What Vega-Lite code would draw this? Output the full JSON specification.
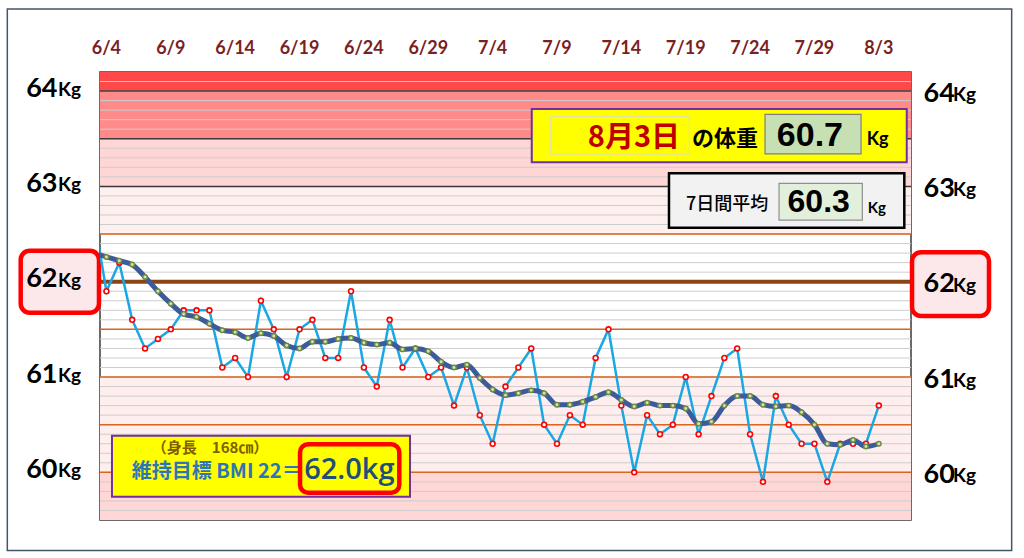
{
  "$schema": "https://vega.github.io/schema/vega-lite/v6.json",
  "description": "Daily body weight 6/4 - 8/3 with 7-day average",
  "width": 811,
  "height": 448,
  "autosize": {"type": "none"},
  "padding": {"left": 100, "top": 72, "right": 113, "bottom": 38},
  "background": "white",
  "config": {"view": {"stroke": "#3a3a3a", "strokeWidth": 1.5}, "text": {"font": "Lato"}},
  "datasets": {
    "weights": [
      {"d": -1, "w": 62.7, "ma": 62.30},
      {"d": 0, "w": 61.9, "ma": 62.26},
      {"d": 1, "w": 62.2, "ma": 62.22},
      {"d": 2, "w": 61.6, "ma": 62.18},
      {"d": 3, "w": 61.3, "ma": 62.05},
      {"d": 4, "w": 61.4, "ma": 61.90},
      {"d": 5, "w": 61.5, "ma": 61.77},
      {"d": 6, "w": 61.7, "ma": 61.66},
      {"d": 7, "w": 61.7, "ma": 61.63},
      {"d": 8, "w": 61.7, "ma": 61.56},
      {"d": 9, "w": 61.1, "ma": 61.49},
      {"d": 10, "w": 61.2, "ma": 61.47},
      {"d": 11, "w": 61.0, "ma": 61.41},
      {"d": 12, "w": 61.8, "ma": 61.46},
      {"d": 13, "w": 61.5, "ma": 61.43},
      {"d": 14, "w": 61.0, "ma": 61.33},
      {"d": 15, "w": 61.5, "ma": 61.30},
      {"d": 16, "w": 61.6, "ma": 61.37},
      {"d": 17, "w": 61.2, "ma": 61.37},
      {"d": 18, "w": 61.2, "ma": 61.40},
      {"d": 19, "w": 61.9, "ma": 61.41},
      {"d": 20, "w": 61.1, "ma": 61.36},
      {"d": 21, "w": 60.9, "ma": 61.34},
      {"d": 22, "w": 61.6, "ma": 61.36},
      {"d": 23, "w": 61.1, "ma": 61.29},
      {"d": 24, "w": 61.3, "ma": 61.30},
      {"d": 25, "w": 61.0, "ma": 61.27},
      {"d": 26, "w": 61.1, "ma": 61.16},
      {"d": 27, "w": 60.7, "ma": 61.10},
      {"d": 28, "w": 61.1, "ma": 61.13},
      {"d": 29, "w": 60.6, "ma": 60.99},
      {"d": 30, "w": 60.3, "ma": 60.87},
      {"d": 31, "w": 60.9, "ma": 60.81},
      {"d": 32, "w": 61.1, "ma": 60.83},
      {"d": 33, "w": 61.3, "ma": 60.86},
      {"d": 34, "w": 60.5, "ma": 60.83},
      {"d": 35, "w": 60.3, "ma": 60.71},
      {"d": 36, "w": 60.6, "ma": 60.71},
      {"d": 37, "w": 60.5, "ma": 60.74},
      {"d": 38, "w": 61.2, "ma": 60.79},
      {"d": 39, "w": 61.5, "ma": 60.84},
      {"d": 40, "w": 60.7, "ma": 60.76},
      {"d": 41, "w": 60.0, "ma": 60.69},
      {"d": 42, "w": 60.6, "ma": 60.73},
      {"d": 43, "w": 60.4, "ma": 60.70},
      {"d": 44, "w": 60.5, "ma": 60.70},
      {"d": 45, "w": 61.0, "ma": 60.67},
      {"d": 46, "w": 60.4, "ma": 60.51},
      {"d": 47, "w": 60.8, "ma": 60.53},
      {"d": 48, "w": 61.2, "ma": 60.70},
      {"d": 49, "w": 61.3, "ma": 60.80},
      {"d": 50, "w": 60.4, "ma": 60.80},
      {"d": 51, "w": 59.9, "ma": 60.71},
      {"d": 52, "w": 60.8, "ma": 60.69},
      {"d": 53, "w": 60.5, "ma": 60.70},
      {"d": 54, "w": 60.3, "ma": 60.63},
      {"d": 55, "w": 60.3, "ma": 60.50},
      {"d": 56, "w": 59.9, "ma": 60.30},
      {"d": 57, "w": 60.3, "ma": 60.29},
      {"d": 58, "w": 60.3, "ma": 60.34},
      {"d": 59, "w": 60.3, "ma": 60.27},
      {"d": 60, "w": 60.7, "ma": 60.30}
    ],
    "dates": [
      {"d": 0, "label": "6/4"}, {"d": 5, "label": "6/9"}, {"d": 10, "label": "6/14"},
      {"d": 15, "label": "6/19"}, {"d": 20, "label": "6/24"}, {"d": 25, "label": "6/29"},
      {"d": 30, "label": "7/4"}, {"d": 35, "label": "7/9"}, {"d": 40, "label": "7/14"},
      {"d": 45, "label": "7/19"}, {"d": 50, "label": "7/24"}, {"d": 55, "label": "7/29"},
      {"d": 60, "label": "8/3"}
    ],
    "bands": [
      {"lo": 64.0, "hi": 64.2, "zone": "z1"},
      {"lo": 63.5, "hi": 64.0, "zone": "z2"},
      {"lo": 63.0, "hi": 63.5, "zone": "z3"},
      {"lo": 62.5, "hi": 63.0, "zone": "z4"},
      {"lo": 60.0, "hi": 61.0, "zone": "z5"},
      {"lo": 59.5, "hi": 60.0, "zone": "z6"}
    ],
    "grid": [
      {"y": 59.6}, {"y": 59.7}, {"y": 59.8}, {"y": 59.9}, {"y": 60.0},
      {"y": 60.1}, {"y": 60.2}, {"y": 60.3}, {"y": 60.4}, {"y": 60.5},
      {"y": 60.6}, {"y": 60.7}, {"y": 60.8}, {"y": 60.9}, {"y": 61.0},
      {"y": 61.1}, {"y": 61.2}, {"y": 61.3}, {"y": 61.4}, {"y": 61.5},
      {"y": 61.6}, {"y": 61.7}, {"y": 61.8}, {"y": 61.9}, {"y": 62.0},
      {"y": 62.1}, {"y": 62.2}, {"y": 62.3}, {"y": 62.4}, {"y": 62.5},
      {"y": 62.6}, {"y": 62.7}, {"y": 62.8}, {"y": 62.9}, {"y": 63.0},
      {"y": 63.1}, {"y": 63.2}, {"y": 63.3}, {"y": 63.4}, {"y": 63.5},
      {"y": 63.6}, {"y": 63.7}, {"y": 63.8}, {"y": 63.9}, {"y": 64.0},
      {"y": 64.1}
    ],
    "orange": [{"y": 60.0}, {"y": 60.5}, {"y": 61.0}, {"y": 61.5}, {"y": 62.5}],
    "dark": [{"y": 63.0}, {"y": 63.5}, {"y": 64.0}],
    "ylabels": [{"y": 60}, {"y": 61}, {"y": 62}, {"y": 63}, {"y": 64}]
  },
  "layer": [
    {
      "data": {"values": [{"frame": "outer"}]},
      "mark": {"type": "rect", "fill": "transparent", "stroke": "#44546A", "strokeWidth": 1.5},
      "encoding": {
        "x": {"datum": -7.7, "scale": {"domain": [-0.5, 62.5], "nice": false, "zero": false}, "axis": null},
        "x2": {"datum": 70.32},
        "y": {"datum": 64.86, "scale": {"domain": [59.5, 64.2], "nice": false, "zero": false}, "axis": null},
        "y2": {"datum": 59.18}
      }
    },
    {
      "data": {"name": "bands"},
      "mark": {"type": "rect"},
      "encoding": {
        "y": {"field": "lo", "type": "quantitative", "scale": {"domain": [59.5, 64.2], "nice": false, "zero": false}, "axis": null},
        "y2": {"field": "hi"},
        "color": {
          "field": "zone", "type": "nominal", "legend": null,
          "scale": {"domain": ["z1", "z2", "z3", "z4", "z5", "z6"], "range": ["#FF4848", "#FF8A8A", "#FFD6D6", "#FFF0F0", "#FFEEEE", "#FFD7D7"]}
        }
      }
    },
    {
      "data": {"name": "grid"},
      "mark": {"type": "rule", "color": "#CDCDCD", "strokeWidth": 1},
      "encoding": {
        "y": {
          "field": "y", "type": "quantitative",
          "axis": {
            "orient": "left", "values": [60, 61, 62, 63, 64], "format": "d", "title": null,
            "domain": false, "ticks": false, "grid": false,
            "labelFont": "Lato", "labelFontSize": 27, "labelFontWeight": "bold", "labelColor": "black",
            "labelPadding": 43, "labelBaseline": "alphabetic", "labelOffset": 5, "zindex": 2
          }
        }
      }
    },
    {
      "data": {"name": "orange"},
      "mark": {"type": "rule", "color": "#D9651E", "strokeWidth": 1.5},
      "encoding": {"y": {"field": "y", "type": "quantitative", "axis": null}}
    },
    {
      "data": {"name": "dark"},
      "mark": {"type": "rule", "color": "#3a3a3a", "strokeWidth": 1.5},
      "encoding": {"y": {"field": "y", "type": "quantitative", "axis": null}}
    },
    {
      "data": {"values": [{"y": 62}]},
      "mark": {"type": "rule", "color": "#8B4513", "strokeWidth": 4},
      "encoding": {
        "y": {
          "field": "y", "type": "quantitative",
          "axis": {
            "orient": "right", "values": [60, 61, 62, 63, 64], "format": "d", "title": null,
            "domain": false, "ticks": false, "grid": false,
            "labelFont": "Lato", "labelFontSize": 27, "labelFontWeight": "bold", "labelColor": "black",
            "labelPadding": 12, "labelAlign": "left", "labelBaseline": "alphabetic", "labelOffset": 10, "zindex": 2
          }
        }
      }
    },
    {
      "data": {"values": [{"box": "left62"}]},
      "mark": {"type": "rect", "fill": "#FCE8EA", "stroke": "#FF0000", "strokeWidth": 4.5, "cornerRadius": 9},
      "encoding": {
        "x": {"datum": -6.66, "axis": null}, "x2": {"datum": -0.58},
        "y": {"datum": 62.325, "axis": null}, "y2": {"datum": 61.675}
      }
    },
    {
      "data": {"values": [{"box": "right62"}]},
      "mark": {"type": "rect", "fill": "#FCE8EA", "stroke": "#FF0000", "strokeWidth": 4.5, "cornerRadius": 9},
      "encoding": {
        "x": {"datum": 62.58, "axis": null}, "x2": {"datum": 68.56},
        "y": {"datum": 62.31, "axis": null}, "y2": {"datum": 61.64}
      }
    },
    {
      "data": {"name": "ylabels"},
      "mark": {"type": "text", "text": "Kg", "align": "right", "baseline": "alphabetic", "dx": -19, "dy": 5, "fontSize": 19, "fontWeight": "bold", "font": "Lato", "color": "black"},
      "encoding": {
        "x": {"datum": -0.5, "axis": null},
        "y": {"field": "y", "type": "quantitative", "axis": null}
      }
    },
    {
      "data": {"name": "ylabels"},
      "mark": {"type": "text", "text": "Kg", "align": "left", "baseline": "alphabetic", "dx": 42, "dy": 10, "fontSize": 19, "fontWeight": "bold", "font": "Lato", "color": "black"},
      "encoding": {
        "x": {"datum": 62.5, "axis": null},
        "y": {"field": "y", "type": "quantitative", "axis": null}
      }
    },
    {
      "data": {"name": "dates"},
      "mark": {"type": "text", "align": "center", "baseline": "alphabetic", "dy": -18, "fontSize": 18, "fontWeight": "bold", "font": "Lato", "color": "#7B1F1F"},
      "encoding": {
        "x": {"field": "d", "type": "quantitative", "axis": null},
        "y": {"datum": 64.2, "axis": null},
        "text": {"field": "label"}
      }
    },
    {
      "data": {"name": "weights"},
      "mark": {"type": "line", "color": "#1AA7E3", "strokeWidth": 2.5, "clip": true},
      "encoding": {
        "x": {"field": "d", "type": "quantitative", "scale": {"domain": [-0.5, 62.5], "nice": false, "zero": false}, "axis": null},
        "y": {"field": "w", "type": "quantitative", "axis": null}
      }
    },
    {
      "data": {"name": "weights"},
      "mark": {"type": "point", "shape": "circle", "filled": true, "fill": "white", "stroke": "#FF0000", "strokeWidth": 1.6, "size": 24, "opacity": 1, "clip": true},
      "encoding": {
        "x": {"field": "d", "type": "quantitative", "axis": null},
        "y": {"field": "w", "type": "quantitative", "axis": null}
      }
    },
    {
      "data": {"name": "weights"},
      "mark": {"type": "line", "color": "#3B5B9A", "strokeWidth": 5, "interpolate": "monotone", "clip": true},
      "encoding": {
        "x": {"field": "d", "type": "quantitative", "axis": null},
        "y": {"field": "ma", "type": "quantitative", "axis": null}
      }
    },
    {
      "data": {"name": "weights"},
      "mark": {"type": "point", "shape": "circle", "filled": true, "fill": "#D5E3B5", "stroke": "#6E8B3D", "strokeWidth": 1.5, "size": 20, "opacity": 1, "clip": true},
      "encoding": {
        "x": {"field": "d", "type": "quantitative", "axis": null},
        "y": {"field": "ma", "type": "quantitative", "axis": null}
      }
    },
    {
      "data": {"values": [{"box": "today"}]},
      "mark": {"type": "rect", "fill": "#FFFF00", "stroke": "#7030A0", "strokeWidth": 2},
      "encoding": {
        "x": {"datum": 33.04, "axis": null}, "x2": {"datum": 62.17},
        "y": {"datum": 63.812, "axis": null}, "y2": {"datum": 63.253}
      }
    },
    {
      "data": {"values": [{"box": "date"}]},
      "mark": {"type": "rect", "fill": "#FFFF00", "stroke": "#E3E3A8", "strokeWidth": 1.2},
      "encoding": {
        "x": {"datum": 34.51, "axis": null}, "x2": {"datum": 45.28},
        "y": {"datum": 63.731, "axis": null}, "y2": {"datum": 63.337}
      }
    },
    {
      "data": {"values": [{"t": "8月3日"}]},
      "mark": {"type": "text", "align": "right", "baseline": "middle", "fontSize": 29, "fontWeight": "bold", "font": "Noto Sans CJK JP", "color": "#C00000"},
      "encoding": {
        "x": {"datum": 44.56, "axis": null}, "y": {"datum": 63.508, "axis": null},
        "text": {"field": "t"}
      }
    },
    {
      "data": {"values": [{"t": "の体重"}]},
      "mark": {"type": "text", "align": "left", "baseline": "middle", "fontSize": 22, "fontWeight": "bold", "font": "Noto Sans CJK JP", "color": "black"},
      "encoding": {
        "x": {"datum": 45.49, "axis": null}, "y": {"datum": 63.497, "axis": null},
        "text": {"field": "t"}
      }
    },
    {
      "data": {"values": [{"box": "todayValue"}]},
      "mark": {"type": "rect", "fill": "#C6E0B4", "stroke": "#7F7F7F", "strokeWidth": 1.2},
      "encoding": {
        "x": {"datum": 51.16, "axis": null}, "x2": {"datum": 58.62},
        "y": {"datum": 63.756, "axis": null}, "y2": {"datum": 63.34}
      }
    },
    {
      "data": {"values": [{"t": "60.7"}]},
      "mark": {"type": "text", "align": "center", "baseline": "middle", "fontSize": 34, "fontWeight": "bold", "font": "Liberation Sans Narrow, Liberation Sans", "color": "black"},
      "encoding": {
        "x": {"datum": 54.65, "axis": null}, "y": {"datum": 63.529, "axis": null},
        "text": {"field": "t"}
      }
    },
    {
      "data": {"values": [{"t": "Kg"}]},
      "mark": {"type": "text", "align": "left", "baseline": "middle", "fontSize": 18, "fontWeight": "bold", "font": "Lato", "color": "black"},
      "encoding": {
        "x": {"datum": 59.06, "axis": null}, "y": {"datum": 63.487, "axis": null},
        "text": {"field": "t"}
      }
    },
    {
      "data": {"values": [{"box": "avg"}]},
      "mark": {"type": "rect", "fill": "#F2F2F2", "stroke": "black", "strokeWidth": 2.5},
      "encoding": {
        "x": {"datum": 43.7, "axis": null}, "x2": {"datum": 61.98},
        "y": {"datum": 63.137, "axis": null}, "y2": {"datum": 62.567}
      }
    },
    {
      "data": {"values": [{"t": "7日間平均"}]},
      "mark": {"type": "text", "align": "left", "baseline": "middle", "fontSize": 18, "fontWeight": 500, "font": "Noto Sans CJK JP", "color": "black"},
      "encoding": {
        "x": {"datum": 45.02, "axis": null}, "y": {"datum": 62.805, "axis": null},
        "text": {"field": "t"}
      }
    },
    {
      "data": {"values": [{"box": "avgValue"}]},
      "mark": {"type": "rect", "fill": "#E2EFDA", "stroke": "#8F8F8F", "strokeWidth": 1.2},
      "encoding": {
        "x": {"datum": 52.25, "axis": null}, "x2": {"datum": 58.72},
        "y": {"datum": 63.032, "axis": null}, "y2": {"datum": 62.647}
      }
    },
    {
      "data": {"values": [{"t": "60.3"}]},
      "mark": {"type": "text", "align": "center", "baseline": "middle", "fontSize": 32, "fontWeight": "bold", "font": "Liberation Sans Narrow, Liberation Sans", "color": "black"},
      "encoding": {
        "x": {"datum": 55.33, "axis": null}, "y": {"datum": 62.839, "axis": null},
        "text": {"field": "t"}
      }
    },
    {
      "data": {"values": [{"t": "Kg"}]},
      "mark": {"type": "text", "align": "left", "baseline": "middle", "fontSize": 15, "fontWeight": "bold", "font": "Lato", "color": "black"},
      "encoding": {
        "x": {"datum": 59.14, "axis": null}, "y": {"datum": 62.77, "axis": null},
        "text": {"field": "t"}
      }
    },
    {
      "data": {"values": [{"box": "bmi"}]},
      "mark": {"type": "rect", "fill": "#FFFF00", "stroke": "#7030A0", "strokeWidth": 2},
      "encoding": {
        "x": {"datum": 0.43, "axis": null}, "x2": {"datum": 23.58},
        "y": {"datum": 60.384, "axis": null}, "y2": {"datum": 59.744}
      }
    },
    {
      "data": {"values": [{"t": "（身長　168㎝）"}]},
      "mark": {"type": "text", "align": "center", "baseline": "middle", "fontSize": 15, "fontWeight": "bold", "font": "Noto Sans CJK JP", "color": "#7F6000"},
      "encoding": {
        "x": {"datum": 8.05, "axis": null}, "y": {"datum": 60.252, "axis": null},
        "text": {"field": "t"}
      }
    },
    {
      "data": {"values": [{"t": "維持目標 BMI 22＝"}]},
      "mark": {"type": "text", "align": "left", "baseline": "middle", "fontSize": 20, "fontWeight": "bold", "font": "Noto Sans CJK JP", "color": "#2E75B6"},
      "encoding": {
        "x": {"datum": 1.96, "axis": null}, "y": {"datum": 60.0, "axis": null},
        "text": {"field": "t"}
      }
    },
    {
      "data": {"values": [{"box": "target"}]},
      "mark": {"type": "rect", "fill": "#FFFF00", "stroke": "#FF0000", "strokeWidth": 4.5, "cornerRadius": 8},
      "encoding": {
        "x": {"datum": 15.04, "axis": null}, "x2": {"datum": 22.75},
        "y": {"datum": 60.294, "axis": null}, "y2": {"datum": 59.786}
      }
    },
    {
      "data": {"values": [{"t": "62.0kg"}]},
      "mark": {"type": "text", "align": "center", "baseline": "middle", "fontSize": 29, "fontWeight": 600, "font": "Open Sans", "color": "#1F4E79"},
      "encoding": {
        "x": {"datum": 18.87, "axis": null}, "y": {"datum": 60.025, "axis": null},
        "text": {"field": "t"}
      }
    }
  ]
}
